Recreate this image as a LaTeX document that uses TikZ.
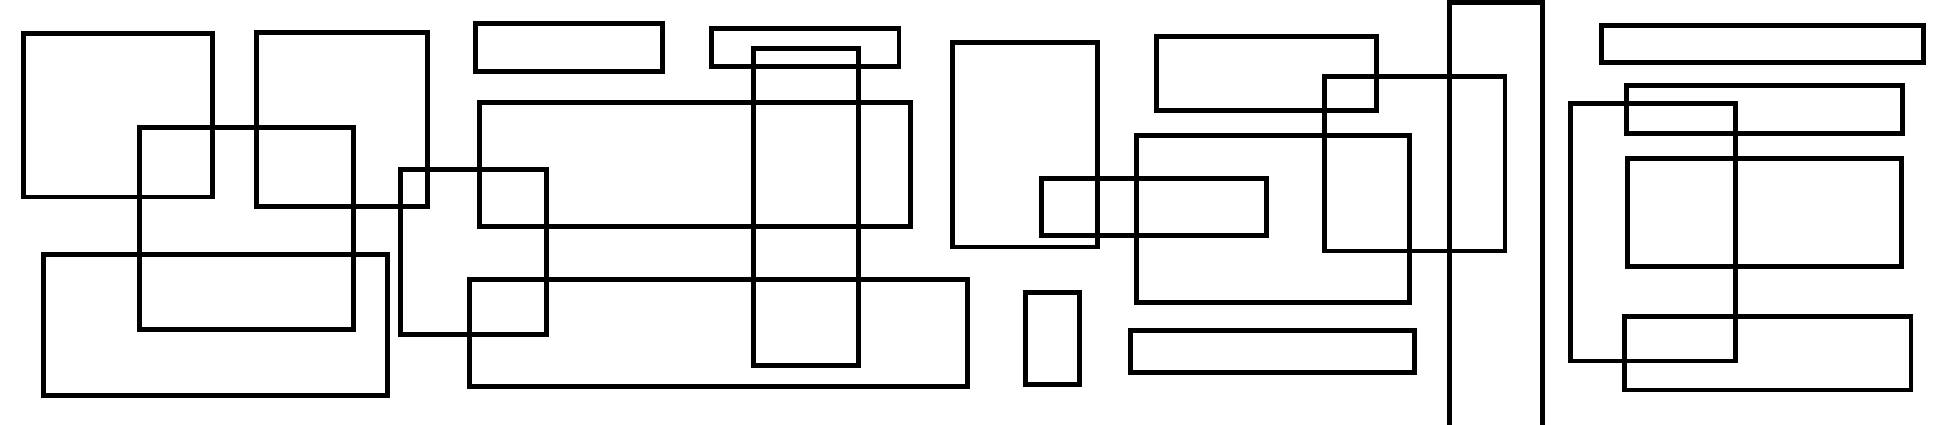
\documentclass[tikz,border=0pt]{standalone}
\begin{document}
\begin{tikzpicture}[x=1pt,y=-1pt,box/.style={draw=black,line width=4.6pt}]
\useasboundingbox (0,0) rectangle (1950,425);
\clip (0,0) rectangle (1950,425);
% A..W rectangles
\draw[box] (23.3,33.7) rectangle (212.3,197);
\draw[box] (256.7,32.7) rectangle (427.3,206.3);
\draw[box] (139.3,127.7) rectangle (353.3,329.3);
\draw[box] (43.3,254.7) rectangle (387.3,395.3);
\draw[box] (400.3,169.7) rectangle (546.3,334.3);
\draw[box] (475.3,23.7) rectangle (662.3,71.3);
\draw[box] (479.7,102.3) rectangle (910.3,226.3);
\draw[box] (469.3,279.3) rectangle (967.3,386.3);
\draw[box] (711.3,28.3) rectangle (899,66.7);
\draw[box] (753.3,48.7) rectangle (858.3,365.7);
\draw[box] (952.3,42.3) rectangle (1097.3,247);
\draw[box] (1041.3,178.3) rectangle (1266.3,235.7);
\draw[box] (1025.3,292.3) rectangle (1079.3,384.3);
\draw[box] (1156.3,36.3) rectangle (1376.3,110.3);
\draw[box] (1136.3,135.7) rectangle (1409.3,302.3);
\draw[box] (1130.3,330.3) rectangle (1414.3,372.3);
\draw[box] (1324.3,76.3) rectangle (1505,251);
\draw[box] (1449.7,2.3) rectangle (1542.3,440);
\draw[box] (1601.3,25.7) rectangle (1923.3,62.3);
\draw[box] (1626.3,85.3) rectangle (1902.3,133.3);
\draw[box] (1570.3,103.3) rectangle (1735.3,361);
\draw[box] (1627.3,158.7) rectangle (1901.3,266.3);
\draw[box] (1624.3,316.3) rectangle (1911,390);
\end{tikzpicture}
\end{document}
